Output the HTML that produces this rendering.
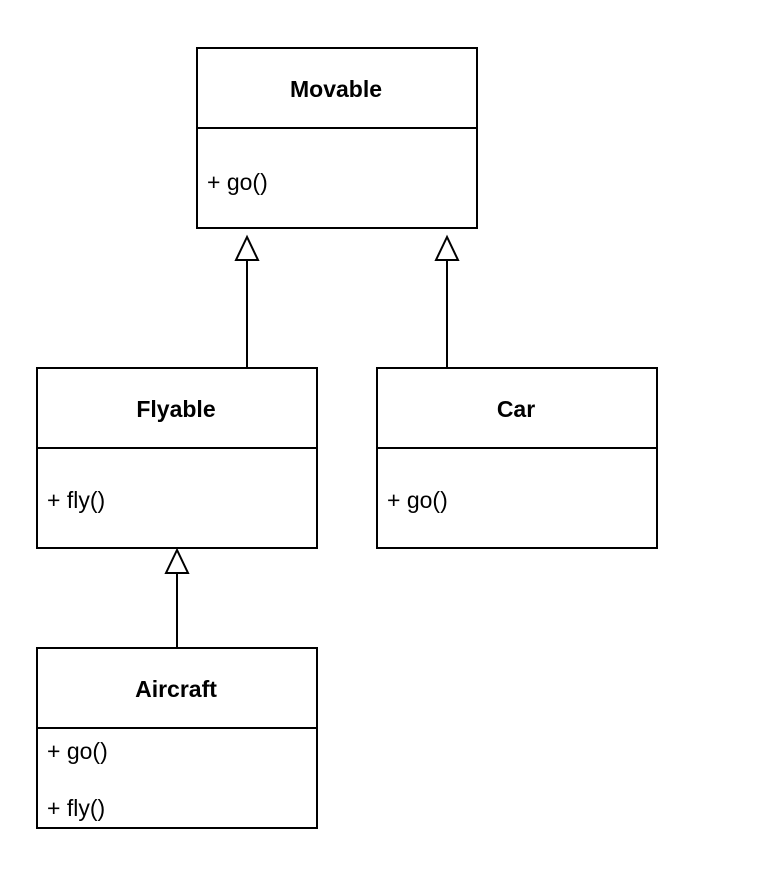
<!DOCTYPE html>
<html><head><meta charset="utf-8"><style>html,body{margin:0;padding:0;background:#fff}</style></head>
<body>
<svg width="766" height="886" xmlns="http://www.w3.org/2000/svg" font-family="Liberation Sans, Arial, sans-serif" font-size="23">
<g fill="#fff" stroke="#000" stroke-width="2">
<rect x="197" y="48" width="280" height="180"/><line x1="197" y1="128" x2="477" y2="128"/>
<rect x="37" y="368" width="280" height="180"/><line x1="37" y1="448" x2="317" y2="448"/>
<rect x="377" y="368" width="280" height="180"/><line x1="377" y1="448" x2="657" y2="448"/>
<rect x="37" y="648" width="280" height="180"/><line x1="37" y1="728" x2="317" y2="728"/>
<line x1="247" y1="368" x2="247" y2="260"/><polygon points="247,237 236,260 258,260"/>
<line x1="447" y1="368" x2="447" y2="260"/><polygon points="447,237 436,260 458,260"/>
<line x1="177" y1="648" x2="177" y2="573"/><polygon points="177,550 166,573 188,573"/>
</g>
<g fill="#000">
<text x="336" y="97" text-anchor="middle" font-weight="bold">Movable</text>
<text x="207" y="190">+ go()</text>
<text x="176" y="417" text-anchor="middle" font-weight="bold">Flyable</text>
<text x="47" y="508">+ fly()</text>
<text x="516" y="417" text-anchor="middle" font-weight="bold">Car</text>
<text x="387" y="508">+ go()</text>
<text x="176" y="697" text-anchor="middle" font-weight="bold">Aircraft</text>
<text x="47" y="759">+ go()</text>
<text x="47" y="816">+ fly()</text>
</g>
</svg>
</body></html>
